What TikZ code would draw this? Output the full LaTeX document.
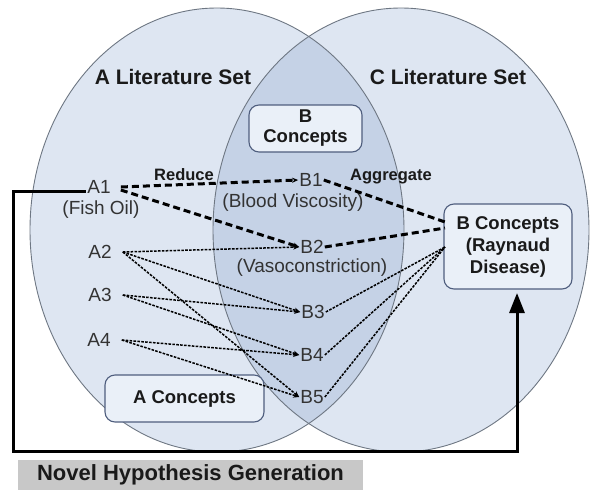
\documentclass[tikz,border=0pt]{standalone}
\usepackage{fontspec}
\setmainfont{Liberation Sans}
\usetikzlibrary{arrows.meta}
\definecolor{setfill}{HTML}{DEE6F2}
\definecolor{lensfill}{HTML}{C5D2E6}
\definecolor{setline}{HTML}{6E7783}
\definecolor{boxfill}{HTML}{EAF0F8}
\definecolor{boxline}{HTML}{4F5E7E}
\definecolor{titlecol}{HTML}{1A1A1A}
\definecolor{itemcol}{HTML}{333333}
\definecolor{bandfill}{HTML}{C8C8C8}
\begin{document}
\begin{tikzpicture}[x=1pt,y=-1pt,
  settitle/.style={font=\fontsize{21}{25}\selectfont\bfseries, text=titlecol, inner sep=0pt},
  item/.style={font=\fontsize{19}{22}\selectfont, text=itemcol, inner sep=1pt},
  rel/.style={font=\fontsize{16.5}{20}\selectfont\bfseries, text=titlecol, inner sep=0pt},
  cbox/.style={draw=boxline, line width=1.1pt, fill=boxfill, rounded corners=10pt,
    font=\fontsize{18.5}{22}\selectfont\bfseries, text=titlecol, align=center, inner sep=0pt},
  thickdash/.style={line width=3pt, dash pattern=on 7pt off 4pt},
  thindash/.style={line width=1.5pt, dash pattern=on 2.6pt off 1.3pt},
  tipB/.style={-{Stealth[length=6pt,width=5pt]}}
]
\useasboundingbox (0,0) rectangle (592,490);
% sets
\fill[setfill] (217,230) ellipse [x radius=187pt, y radius=222pt];
\fill[setfill] (401,230) ellipse [x radius=188pt, y radius=222pt];
\begin{scope}
  \clip (217,230) ellipse [x radius=187pt, y radius=222pt];
  \fill[lensfill] (401,230) ellipse [x radius=188pt, y radius=222pt];
\end{scope}
\draw[setline, line width=0.9pt] (217,230) ellipse [x radius=187pt, y radius=222pt];
\draw[setline, line width=0.9pt] (401,230) ellipse [x radius=188pt, y radius=222pt];

% titles
\node[settitle] (tA) at (173,77) {A Literature Set};
\node[settitle] (tC) at (448,77) {C Literature Set};

% boxes
\node[cbox, minimum width=113pt, minimum height=47pt] (bcon) at (305.5,128.5) {B\\[-2pt]Concepts};
\node[cbox, minimum width=128pt, minimum height=85pt] (rbox) at (508,246.5) {B Concepts\\(Raynaud\\Disease)};
\node[cbox, minimum width=159pt, minimum height=47pt] (acon) at (184.5,398.5) {A Concepts};

% A items
\node[item] (A1) at (99,187) {A1};
\node[item] (fish) at (101,210) {(Fish Oil)};
\node[item] (A2) at (100,252) {A2};
\node[item] (A3) at (100,295) {A3};
\node[item] (A4) at (99,340) {A4};

% B items
\node[item] (B1) at (311,180) {B1};
\node[item] (blood) at (293,203) {(Blood Viscosity)};
\node[item] (B2) at (312,247) {B2};
\node[item] (vaso) at (312,268) {(Vasoconstriction)};
\node[item] (B3) at (313,312) {B3};
\node[item] (B4) at (312,355) {B4};
\node[item] (B5) at (312,397) {B5};

% relation labels
\node[rel] (red) at (184,175) {Reduce};
\node[rel] (agg) at (391,177) {Aggregate};

% entry points on the Raynaud box
\coordinate (rin1) at (445,222);
\coordinate (rin2) at (445,228);
\coordinate (rin3) at (445,247);

% thick dashed connectors
\draw[thickdash, tipB] ([xshift=9pt]A1.east) -- (B1.west);
\draw[thickdash, tipB] ([xshift=9pt,yshift=-3pt]A1.east) -- (B2.west);
\draw[thickdash] (B1.east) -- (rin1);
\draw[thickdash] (B2.east) -- (rin2);

% thin dashed connectors
\draw[thindash, tipB] ([xshift=10pt]A2.east) -- (B2.west);
\draw[thindash, tipB] ([xshift=10pt]A2.east) -- (B3.west);
\draw[thindash, tipB] ([xshift=10pt]A2.east) -- (B5.west);
\draw[thindash, tipB] ([xshift=10pt]A3.east) -- (B3.west);
\draw[thindash, tipB] ([xshift=10pt]A3.east) -- (B4.west);
\draw[thindash, tipB] ([xshift=10pt]A4.east) -- (B4.west);
\draw[thindash, tipB] ([xshift=10pt]A4.east) -- (B5.west);
\draw[thindash] (B3.east) -- (rin3);
\draw[thindash] (B4.east) -- (rin3);
\draw[thindash] (B5.east) -- (rin3);

% hypothesis loop
\coordinate (fr1) at (13,191);
\coordinate (fr2) at (13,451);
\coordinate (fr3) at (517,451);
\coordinate (arrend) at (517,293);
\draw[line width=3pt, line join=miter, -{Triangle[length=20pt,width=15pt]}]
  ([yshift=-4pt]A1.west) -- (fr1) -- (fr2) -- (fr3) -- (arrend);

% caption band
\node[fill=bandfill, minimum width=345pt, minimum height=30pt, inner sep=0pt,
  font=\fontsize{22}{26}\selectfont\bfseries, text=titlecol] (cap) at (190.5,475) {Novel Hypothesis Generation};
\end{tikzpicture}
\end{document}
